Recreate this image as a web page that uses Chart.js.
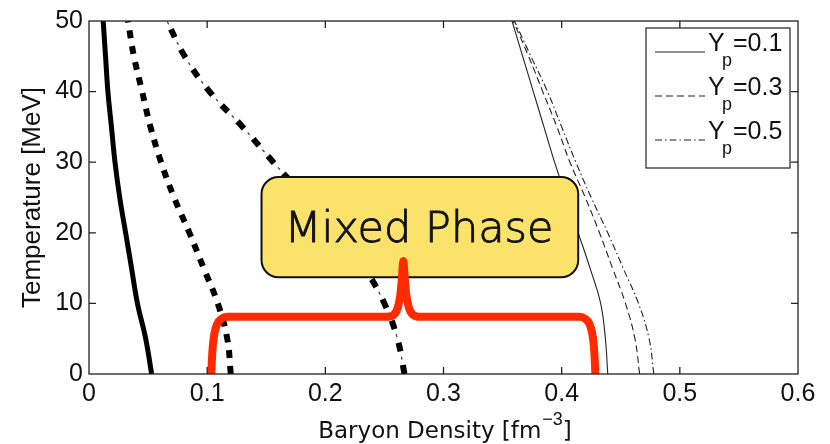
<!DOCTYPE html>
<html><head><meta charset="utf-8">
<script src="https://cdn.jsdelivr.net/npm/chart.js@4.4.0/dist/chart.umd.min.js"></script>
<style>html,body{margin:0;padding:0;background:#fff}canvas{display:block}</style>
</head><body>
<canvas id="c" width="830" height="444"></canvas>
<script>
// ---- data ----
const temperature = [0, 5, 10, 15, 20, 25, 30, 35, 40, 45, 50];           // MeV
// lower (nuclear-side) phase boundary, thick lines
const lowerYp01 = [0.053, 0.048, 0.041, 0.036, 0.031, 0.026, 0.022, 0.019, 0.016, 0.014, 0.012];
const lowerYp03 = [0.120, 0.117, 0.109, 0.097, 0.085, 0.072, 0.061, 0.052, 0.045, 0.038, 0.033];
const lowerYp05 = [0.267, 0.261, 0.250, 0.233, 0.209, 0.183, 0.156, 0.130, 0.102, 0.081, 0.066];
// upper (quark-side) phase boundary, thin lines
const upperYp01 = [0.439, 0.437, 0.433, 0.424, 0.414, 0.404, 0.394, 0.385, 0.376, 0.367, 0.358];
const upperYp03 = [0.466, 0.462, 0.454, 0.443, 0.432, 0.420, 0.407, 0.396, 0.384, 0.372, 0.359];
const upperYp05 = [0.478, 0.474, 0.465, 0.452, 0.439, 0.425, 0.412, 0.400, 0.388, 0.374, 0.360];
const ypLabels = ['0.1', '0.3', '0.5'];
const xTickValues = [0, 0.1, 0.2, 0.3, 0.4, 0.5, 0.6];
const yTickValues = [0, 10, 20, 30, 40, 50];
const xTitle = ['Baryon Density [fm', '\u22123', ']'];
const yTitle = 'Temperature [MeV]';
// curly bracket marking the mixed phase (density, temperature)
const bracketDensity = [0.1035,0.1040,0.1048,0.1062,0.1085,0.1120,0.1170,0.2520,0.2580,0.2615,0.2637,0.2650,0.2660,0.2670,0.2683,0.2705,0.2740,0.2800,0.4150,0.4200,0.4235,0.4258,0.4272,0.4280,0.4285];
const bracketTemp    = [0,2,4,5.8,7.1,7.8,8.1,8.1,8.4,9.5,11.5,14,16.0,14,11.5,9.5,8.4,8.1,8.1,7.8,7.1,5.8,4,2,0];
const annotationText = 'Mixed Phase';
const annotationBox = {xMin: 0.146, xMax: 0.414, yMin: 13.7, yMax: 27.9};

const pts = (xs) => xs.map((x, i) => ({x, y: temperature[i]}));
const base = {pointRadius: 0, fill: false, tension: 0.4, borderCapStyle: 'butt', borderJoinStyle: 'round', clip: 0, order: 2};

const styles = [
  {borderDash: [], width: 1.1},
  {borderDash: [7, 4], width: 1.1},
  {borderDash: [7, 3, 1.5, 3], width: 1.1}
];

const datasets = [
  Object.assign({}, base, {label: 'lower Yp=0.1', data: pts(lowerYp01), borderColor: '#000', borderWidth: 5}),
  Object.assign({}, base, {label: 'lower Yp=0.3', data: pts(lowerYp03), borderColor: '#000', borderWidth: 6, borderDash: [8, 8]}),
  Object.assign({}, base, {label: 'lower Yp=0.5', data: pts(lowerYp05), borderColor: '#000', borderWidth: 6, borderDash: [9, 14]}),
  Object.assign({}, base, {label: 'lower Yp=0.5 dot', data: pts(lowerYp05), borderColor: '#444', borderWidth: 1.3, borderDash: [3, 20], borderDashOffset: 8.5}),
  Object.assign({}, base, {label: 'upper Yp=0.1', data: pts(upperYp01), borderColor: '#222', borderWidth: styles[0].width, borderDash: styles[0].borderDash}),
  Object.assign({}, base, {label: 'upper Yp=0.3', data: pts(upperYp03), borderColor: '#222', borderWidth: styles[1].width, borderDash: styles[1].borderDash}),
  Object.assign({}, base, {label: 'upper Yp=0.5', data: pts(upperYp05), borderColor: '#222', borderWidth: styles[2].width, borderDash: styles[2].borderDash}),
  {label: 'bracket', isBracket: true, data: bracketDensity.map((x, i) => ({x, y: bracketTemp[i]})),
   borderColor: '#ff2a00', borderWidth: 8, pointRadius: 0, cubicInterpolationMode: 'monotone',
   borderCapStyle: 'round', borderJoinStyle: 'round', clip: 0, order: 1}
];

function roundRect(ctx, x, y, w, h, r) {
  ctx.beginPath();
  ctx.moveTo(x + r, y);
  ctx.arcTo(x + w, y, x + w, y + h, r);
  ctx.arcTo(x + w, y + h, x, y + h, r);
  ctx.arcTo(x, y + h, x, y, r);
  ctx.arcTo(x, y, x + w, y, r);
  ctx.closePath();
}

const decor = {
  id: 'decor',
  beforeDraw(chart) {
    const ctx = chart.ctx; ctx.save(); ctx.fillStyle = '#fff'; ctx.fillRect(0, 0, chart.width, chart.height); ctx.restore();
  },
  beforeDatasetDraw(chart, args) {
    if (!chart.data.datasets[args.index].isBracket) return;
    const {ctx, scales: {x, y}} = chart;
    const l = x.getPixelForValue(annotationBox.xMin), r = x.getPixelForValue(annotationBox.xMax);
    const t = y.getPixelForValue(annotationBox.yMax), b = y.getPixelForValue(annotationBox.yMin);
    ctx.save();
    roundRect(ctx, l, t, r - l, b - t, 17);
    ctx.fillStyle = '#fbe26b'; ctx.fill();
    ctx.lineWidth = 2; ctx.strokeStyle = '#111'; ctx.stroke();
    ctx.fillStyle = '#111'; ctx.strokeStyle = '#111'; ctx.lineWidth = 0.9;
    ctx.font = '200 43px "DejaVu Sans ExtraLight", "DejaVu Sans"';
    ctx.textAlign = 'center'; ctx.textBaseline = 'alphabetic';
    const cx = (l + r) / 2 - 1, cy = (t + b) / 2 + 15;
    ctx.fillText(annotationText, cx, cy);
    ctx.strokeText(annotationText, cx, cy);
    ctx.restore();
  },
  afterDatasetsDraw(chart) {
    const {ctx, chartArea: a, scales: {x, y}} = chart;
    ctx.save();
    ctx.strokeStyle = '#222'; ctx.lineWidth = 1.3;
    ctx.strokeRect(a.left, a.top, a.right - a.left, a.bottom - a.top);
    ctx.beginPath();
    const tl = 7;
    xTickValues.forEach(v => {
      const px = x.getPixelForValue(v);
      if (px <= a.left + 1 || px >= a.right - 1) return;
      ctx.moveTo(px, a.bottom); ctx.lineTo(px, a.bottom - tl);
      ctx.moveTo(px, a.top); ctx.lineTo(px, a.top + tl);
    });
    yTickValues.forEach(v => {
      const py = y.getPixelForValue(v);
      if (py <= a.top + 1 || py >= a.bottom - 1) return;
      ctx.moveTo(a.left, py); ctx.lineTo(a.left + tl, py);
      ctx.moveTo(a.right, py); ctx.lineTo(a.right - tl, py);
    });
    ctx.stroke();
    ctx.restore();
  },
  afterDraw(chart) {
    const {ctx, chartArea: a} = chart;
    ctx.save();
    // x-axis title with superscript
    const f1 = '23px "DejaVu Sans"', f2 = '18px "Liberation Sans"';
    ctx.fillStyle = '#111'; ctx.textBaseline = 'alphabetic'; ctx.textAlign = 'left';
    ctx.font = f1; const w0 = ctx.measureText(xTitle[0]).width, w2 = ctx.measureText(xTitle[2]).width;
    ctx.font = f2; const w1 = ctx.measureText(xTitle[1]).width;
    let tx = (a.left + a.right) / 2 - (w0 + w1 + w2) / 2 + 1;
    const ty = 438;
    ctx.font = f1; ctx.fillText(xTitle[0], tx, ty); tx += w0 + 1;
    ctx.font = f2; ctx.fillText(xTitle[1], tx, ty - 13); tx += w1;
    ctx.font = f1; ctx.fillText(xTitle[2], tx, ty);

    // legend
    const bw = 144, bh = 140;
    const bx = a.right - 8 - bw, by = a.top + 7;
    ctx.fillStyle = '#fff'; ctx.fillRect(bx, by, bw, bh);
    ctx.strokeStyle = '#333'; ctx.lineWidth = 1.3; ctx.strokeRect(bx, by, bw, bh);
    ypLabels.forEach((lab, i) => {
      const baseY = by + 23 + i * 44;
      ctx.beginPath();
      ctx.setLineDash(styles[i].borderDash);
      ctx.lineWidth = 1.1; ctx.strokeStyle = '#222';
      ctx.moveTo(bx + 9, baseY + 1); ctx.lineTo(bx + 59, baseY + 1);
      ctx.stroke();
      ctx.setLineDash([]);
      ctx.fillStyle = '#111'; ctx.textAlign = 'left'; ctx.textBaseline = 'alphabetic';
      ctx.font = '25px "Liberation Sans"';
      ctx.fillText('Y', bx + 62, baseY);
      ctx.fillText('=' + lab, bx + 87, baseY);
      ctx.font = '18px "Liberation Sans"';
      ctx.fillText('p', bx + 76, baseY + 15);
    });
    ctx.restore();
  }
};

new Chart(document.getElementById('c'), {
  type: 'scatter',
  data: {datasets},
  options: {
    responsive: false, animation: false, devicePixelRatio: 1,
    showLine: true,
    layout: {padding: {top: 21, right: 32, left: 0, bottom: 0}},
    plugins: {legend: {display: false}, tooltip: {enabled: false}},
    scales: {
      x: {
        type: 'linear', min: 0, max: 0.6,
        afterBuildTicks: s => { s.ticks = xTickValues.map(v => ({value: v})); },
        afterFit: s => { s.height = 70; },
        grid: {display: false, drawTicks: false}, border: {display: false},
        ticks: {padding: 5, color: '#111', font: {family: '"Liberation Sans"', size: 25},
                callback: v => String(Number(v.toFixed(1)))},
        title: {display: false}
      },
      y: {
        type: 'linear', min: 0, max: 50,
        afterBuildTicks: s => { s.ticks = yTickValues.map(v => ({value: v})); },
        afterFit: s => { s.width = 89; },
        grid: {display: false, drawTicks: false}, border: {display: false},
        ticks: {padding: 6, color: '#111', font: {family: '"Liberation Sans"', size: 25}},
        title: {display: true, text: yTitle, color: '#111',
                font: {family: '"Liberation Sans"', size: 26}, padding: {top: 17, bottom: 0}}
      }
    }
  },
  plugins: [decor]
});
</script>
</body></html>
